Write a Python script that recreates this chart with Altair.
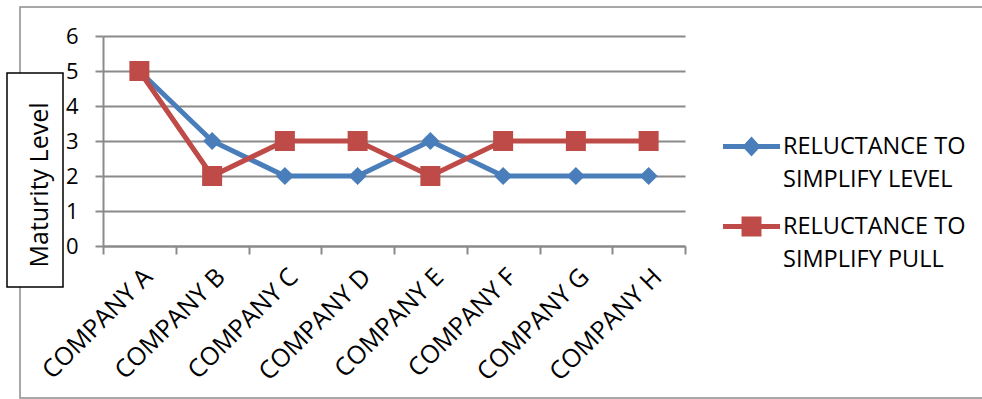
import altair as alt
import pandas as pd

companies = ["COMPANY A", "COMPANY B", "COMPANY C", "COMPANY D",
             "COMPANY E", "COMPANY F", "COMPANY G", "COMPANY H"]
level = [5, 3, 2, 2, 3, 2, 2, 2]
pull = [5, 2, 3, 3, 2, 3, 3, 3]
series_names = ["RELUCTANCE TO SIMPLIFY LEVEL", "RELUCTANCE TO SIMPLIFY PULL"]
second_lines = ["SIMPLIFY LEVEL", "SIMPLIFY PULL"]
y_ticks = [0, 1, 2, 3, 4, 5, 6]
y_title = "Maturity Level"

colors = ["#4a7ebb", "#be4b48"]
GRID = "#8a8a8a"
FONT = "Open Sans"

rows = []
for name, vals in zip(series_names, [level, pull]):
    for c, v in zip(companies, vals):
        rows.append({"company": c, "value": v, "series": name})
df = pd.DataFrame(rows)
one = pd.DataFrame({"k": [0]})

x_enc = alt.X(
    "company:N", sort=companies,
    scale=alt.Scale(type="band", paddingInner=0, paddingOuter=0),
    axis=alt.Axis(title=None, labelAngle=315, labelAlign="right", labelBaseline="top",
                  labelFont=FONT, labelFontSize=25, labelColor="black", labelPadding=10,
                  tickBand="extent", tickSize=8, tickColor=GRID, tickWidth=2,
                  domainColor=GRID, domainWidth=2, grid=False))
y_enc = alt.Y(
    "value:Q", scale=alt.Scale(domain=[0, 6], nice=False),
    axis=alt.Axis(title=None, values=y_ticks, grid=True, gridColor=GRID, gridWidth=2,
                  tickSize=8, tickColor=GRID, tickWidth=2, domainColor=GRID, domainWidth=2,
                  labelFont=FONT, labelFontSize=22, labelColor="black", labelPadding=17))

border = alt.Chart(one).mark_rect(fillOpacity=0, stroke="#8c8c8c", strokeWidth=1.5).encode(
    x=alt.value(-83), x2=alt.value(900), y=alt.value(-29), y2=alt.value(362))

lines = []
pts = []
for name, shp, sz, col in zip(series_names, ["diamond", "square"], [330, 400], colors):
    lines.append(alt.Chart(df).transform_filter(alt.datum.series == name).mark_line(
        strokeWidth=5, color=col).encode(x=x_enc, y=y_enc))
    pts.append(alt.Chart(df).transform_filter(alt.datum.series == name).mark_point(
        shape=shp, size=sz, filled=True, opacity=1, color=col, strokeWidth=0).encode(x=x_enc, y=y_enc))

bbox = " M-1,-1 L-1,-1 Z M1,1 L1,1 Z"
path_d = ("M-1,-0.088 L-0.24,-0.088 L0,-0.35 L0.24,-0.088 L1,-0.088 L1,0.088 "
          "L0.24,0.088 L0,0.35 L-0.24,0.088 L-1,0.088 Z" + bbox)
path_s = ("M-1,-0.088 L-0.35,-0.088 L-0.35,-0.35 L0.35,-0.35 L0.35,-0.088 L1,-0.088 "
          "L1,0.088 L0.35,0.088 L0.35,0.35 L-0.35,0.35 L-0.35,0.088 L-1,0.088 Z" + bbox)

common = dict(orient="none", title=None, padding=0, labelFont=FONT, labelFontSize=23.5,
              labelColor="black", labelLimit=400, symbolSize=3249, labelOffset=3,
              rowPadding=23, symbolStrokeWidth=0, legendX=620)

leg1 = alt.Legend(legendY=82, labelExpr="substring(datum.label, 0, 13)", **common)
legend1 = alt.Chart(df).transform_filter("false").mark_point(filled=True, opacity=1).encode(
    x=x_enc, y=y_enc,
    color=alt.Color("series:N", scale=alt.Scale(domain=series_names, range=colors), legend=leg1),
    shape=alt.Shape("series:N", scale=alt.Scale(domain=series_names, range=[path_d, path_s]),
                    legend=leg1))

leg2 = alt.Legend(legendY=115, symbolOpacity=0, symbolType="square", **common)
legend2 = alt.Chart(df).transform_filter("false").transform_calculate(
    line2="substring(datum.series, 14)").mark_line(opacity=0).encode(
    x=x_enc, y=y_enc,
    strokeDash=alt.StrokeDash("line2:N", scale=alt.Scale(domain=second_lines), legend=leg2))

title_box = alt.Chart(one).mark_rect(fill="white", stroke="black", strokeWidth=1.5).encode(
    x=alt.value(-96), x2=alt.value(-40), y=alt.value(37), y2=alt.value(251))
title_text = alt.Chart(one).mark_text(
    text=y_title, angle=270, font=FONT, fontSize=25, color="black",
    align="center", baseline="alphabetic").encode(x=alt.value(-55), y=alt.value(149))

chart = alt.layer(border, *lines, *pts, legend1, legend2, title_box, title_text).properties(
    width=582, height=210,
    padding={"left": 103, "top": 36, "right": 297, "bottom": 153},
    autosize=alt.AutoSizeParams(type="none"),
    background="white",
).configure_view(strokeWidth=0)

chart.save("out.html", embed_options={"renderer": "svg", "actions": False})
